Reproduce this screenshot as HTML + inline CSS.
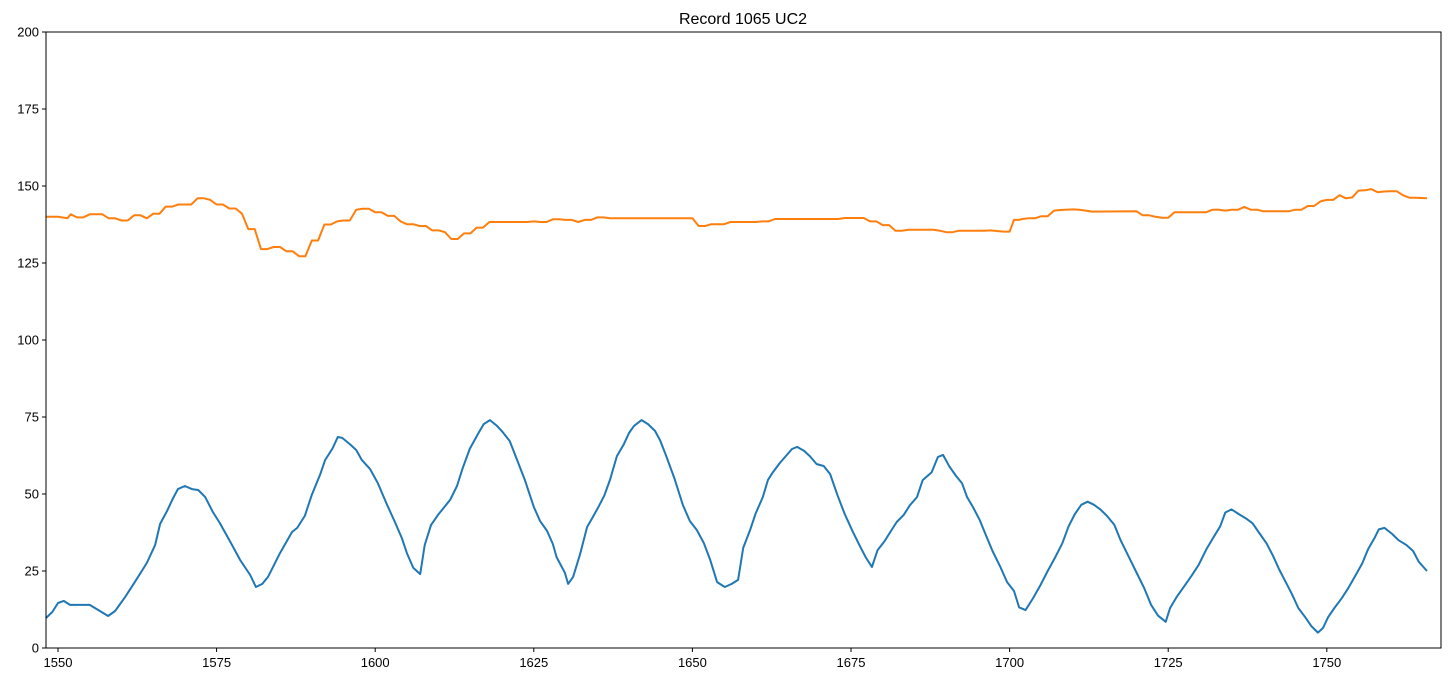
<!DOCTYPE html>
<html><head><meta charset="utf-8"><style>
body{margin:0;background:#fff}
svg{display:block;font-family:"Liberation Sans","DejaVu Sans",sans-serif}
</style></head><body>
<svg id="chart" width="1451" height="682">
<rect x="0" y="0" width="1451" height="682" fill="#fff"/>
<text x="743" y="24" text-anchor="middle" font-size="16" fill="#000">Record 1065 UC2</text>
<g id="grid"></g>
<g id="lines"></g>
<rect x="46" y="32" width="1395" height="616" fill="none" stroke="#000" stroke-width="1"/>
<g id="axes"></g>
</svg>
<script>
const xTicks=[1550,1575,1600,1625,1650,1675,1700,1725,1750];
const yTicks=[0,25,50,75,100,125,150,175,200];
const blueX=[1548.1,1549.1,1550,1550.9,1551.9,1555,1556.6,1557.9,1559,1560.6,1562.1,1564,1565.3,1566.1,1567.2,1568,1568.9,1570,1571.1,1572.1,1573.2,1574.4,1575.5,1577.1,1578.7,1580.3,1581.2,1582.2,1583.1,1585,1586.9,1587.7,1588.9,1590,1591.3,1592.1,1593.3,1594.1,1594.8,1596,1597,1597.9,1599.2,1600.4,1601.9,1603.1,1604.2,1605,1606,1607.1,1607.8,1608.8,1609.9,1610.8,1611.8,1612.9,1613.8,1614.9,1616.2,1617.1,1618.1,1619.2,1620.1,1621.2,1622.5,1623.6,1625,1626,1627.1,1628,1628.6,1629.9,1630.4,1631.2,1632.3,1633.4,1634.3,1635.1,1636.1,1637,1638.1,1639.2,1640,1640.8,1642,1643,1644.1,1644.9,1645.8,1647.2,1648.5,1649.6,1650.7,1651.8,1652.8,1653.9,1655.1,1656.2,1657.2,1658,1659.1,1660,1661.1,1661.9,1662.7,1663.8,1664.9,1665.7,1666.5,1667.6,1668.5,1669.6,1670.7,1671.7,1672.9,1674,1675.3,1676.4,1677.3,1678.3,1679.2,1680.3,1681.4,1682.2,1683.3,1684.3,1685.4,1686.3,1687.7,1688.7,1689.5,1690.5,1691.5,1692.5,1693.3,1694.3,1695.3,1696.3,1697.3,1698.5,1699.6,1700.7,1701.5,1702.5,1703.7,1704.8,1706,1707.2,1708.3,1709.3,1710.3,1711.3,1712.3,1713.3,1714.3,1715.3,1716.5,1717.5,1718.8,1720,1721.2,1722.3,1723.4,1724.6,1725.3,1726.3,1727.5,1728.7,1729.8,1731,1732,1733.2,1734,1735,1736.1,1737.3,1738.3,1739.3,1740.5,1741.5,1742.5,1743.5,1744.5,1745.5,1746.6,1747.6,1748.6,1749.4,1750.2,1751.2,1752.3,1753.4,1754.5,1755.6,1756.5,1757.6,1758.2,1759.1,1760.3,1761.3,1762.5,1763.6,1764.5,1765.8];
const blueY=[9.7,11.7,14.6,15.3,14,14,12,10.4,12,16.6,21.4,27.6,33.4,40.3,44.5,48.1,51.6,52.6,51.6,51.3,49,44.2,40.6,34.7,28.6,23.7,19.8,20.8,23.1,30.8,37.7,39,42.9,49.7,56.2,61,64.9,68.5,68.2,66.2,64.3,61,58.1,53.6,46.4,40.9,35.7,30.8,26,24,33.4,39.9,43.2,45.5,48.1,52.6,58.4,64.6,69.5,72.7,74,72.1,70.1,67.2,60.4,54.5,45.8,41.2,38,33.8,29.5,24.4,20.8,23.1,30.5,39.3,42.5,45.5,49.4,54.5,62.3,66.2,69.8,72.1,74,72.7,70.5,67.5,62.7,54.9,46.4,41.2,38.3,34.1,28.6,21.4,19.8,20.8,22.1,32.5,38.3,43.8,49,54.5,57.1,60.1,62.7,64.6,65.3,64,62.3,59.7,59.1,56.5,49.4,43.5,37.7,33.1,29.5,26.3,31.8,34.7,38.3,40.9,43.2,46.4,49,54.5,57,62,62.7,59,56,53.5,49,45.5,41.5,36.5,31.5,26.5,21.4,18.5,13.2,12.3,16.2,20.2,25,29.5,34,39.5,43.5,46.5,47.5,46.5,45,43,40,35,29.5,24.5,19.5,14,10.5,8.5,13,16.5,20,23.5,27,32,35.5,39.5,44,45,43.5,42,40.5,37.5,34,30,25.5,21.5,17.5,13,10,7,5,6.5,10,13,16,19.5,23.5,27.5,32,36,38.5,39,37,35,33.5,31.5,28,25];
const orangeX=[1548.1,1550,1551.5,1552,1553,1554,1555,1557,1558,1559,1560,1561,1562,1563,1564,1565,1566,1567,1568,1569,1571,1572,1573,1574,1575,1576,1577,1578,1579,1580,1581,1582,1583,1584,1585,1586,1587,1588,1589,1590,1591,1592,1593,1594,1595,1596,1597,1598,1599,1600,1601,1602,1603,1604,1605,1606,1607,1608,1609,1610,1611,1612,1613,1614,1615,1616,1617,1618,1620,1624,1625,1626,1627,1628,1629,1630,1631,1632,1633,1634,1635,1636,1637,1650,1651,1652,1653,1655,1656,1660,1661,1662,1663,1673,1674,1677,1678,1679,1680,1681,1682,1683,1684,1688,1689,1690,1691,1692,1696,1697,1699,1700,1700.7,1701.5,1702,1703,1704,1705,1706,1707,1708,1710,1711,1712,1713,1720,1721,1722,1723,1724,1725,1726,1731,1732,1733,1734,1735,1736,1737,1738,1739,1740,1744,1745,1746,1747,1748,1749,1750,1751,1752,1753,1754,1755,1756,1757,1758,1759,1760,1761,1762,1763,1764,1765.8];
const orangeY=[140,140,139.5,140.8,139.8,139.8,140.8,140.8,139.5,139.5,138.8,138.8,140.5,140.5,139.5,141,141,143.3,143.3,144,144,146,146,145.5,144,144,142.7,142.7,141,136,136,129.5,129.5,130.2,130.2,128.8,128.8,127.2,127.2,132.3,132.3,137.5,137.5,138.5,138.8,138.8,142.3,142.6,142.6,141.5,141.5,140.3,140.3,138.5,137.6,137.6,137,137,135.6,135.6,135,132.8,132.8,134.6,134.6,136.5,136.5,138.3,138.3,138.3,138.5,138.3,138.3,139.2,139.2,139,139,138.3,139,139,139.8,139.8,139.5,139.5,137,137,137.6,137.6,138.3,138.3,138.5,138.5,139.3,139.3,139.6,139.6,138.5,138.5,137.3,137.3,135.5,135.5,135.8,135.8,135.5,135,135,135.5,135.5,135.6,135.2,135.2,139,139,139.3,139.5,139.5,140.2,140.2,142,142.2,142.4,142.3,142,141.7,141.8,140.5,140.5,140,139.7,139.7,141.5,141.5,142.3,142.3,142,142.3,142.3,143.2,142.3,142.3,141.8,141.8,142.3,142.3,143.5,143.5,145,145.5,145.5,147,146,146.3,148.5,148.6,149,148,148.2,148.3,148.3,147,146.2,146.2,146];
const NS='http://www.w3.org/2000/svg';
const L=46,R=1441,T=32,B=648,XMIN=1548.11,XMAX=1768.0,YMIN=0,YMAX=200;
function xs(v){return L+(v-XMIN)/(XMAX-XMIN)*(R-L);}
function ys(v){return B-(v-YMIN)/(YMAX-YMIN)*(B-T);}
const axes=document.getElementById('axes');
const lines=document.getElementById('lines');
xTicks.forEach(t=>{
  const l=document.createElementNS(NS,'line');
  l.setAttribute('x1',xs(t));l.setAttribute('x2',xs(t));l.setAttribute('y1',B);l.setAttribute('y2',B+4);
  l.setAttribute('stroke','#000');
  
  
  axes.appendChild(l);
  const tx=document.createElementNS(NS,'text');
  tx.setAttribute('x',xs(t));tx.setAttribute('y',B+19);tx.setAttribute('text-anchor','middle');tx.setAttribute('font-size','13');
  tx.textContent=t;
  
  
  axes.appendChild(tx);
});
yTicks.forEach(t=>{
  const l=document.createElementNS(NS,'line');
  l.setAttribute('x1',L-4);l.setAttribute('x2',L);l.setAttribute('y1',ys(t));l.setAttribute('y2',ys(t));
  l.setAttribute('stroke','#000');
  
  
  axes.appendChild(l);
  const tx=document.createElementNS(NS,'text');
  tx.setAttribute('x',L-7);tx.setAttribute('y',ys(t)+4.5);tx.setAttribute('text-anchor','end');tx.setAttribute('font-size','13');
  tx.textContent=t;
  
  
  axes.appendChild(tx);
});
function drawLine(xa,ya,color,name){
  const p=document.createElementNS(NS,'polyline');
  p.setAttribute('points',xa.map((x,i)=>xs(x).toFixed(1)+','+ys(ya[i]).toFixed(1)).join(' '));
  p.setAttribute('fill','none');p.setAttribute('stroke',color);p.setAttribute('stroke-width','2');p.setAttribute('stroke-linejoin','round');
  
  
  lines.appendChild(p);
}
drawLine(blueX,blueY,'#1f77b4','series-blue-line');
drawLine(orangeX,orangeY,'#ff7f0e','series-orange-line');
</script>
</body></html>
